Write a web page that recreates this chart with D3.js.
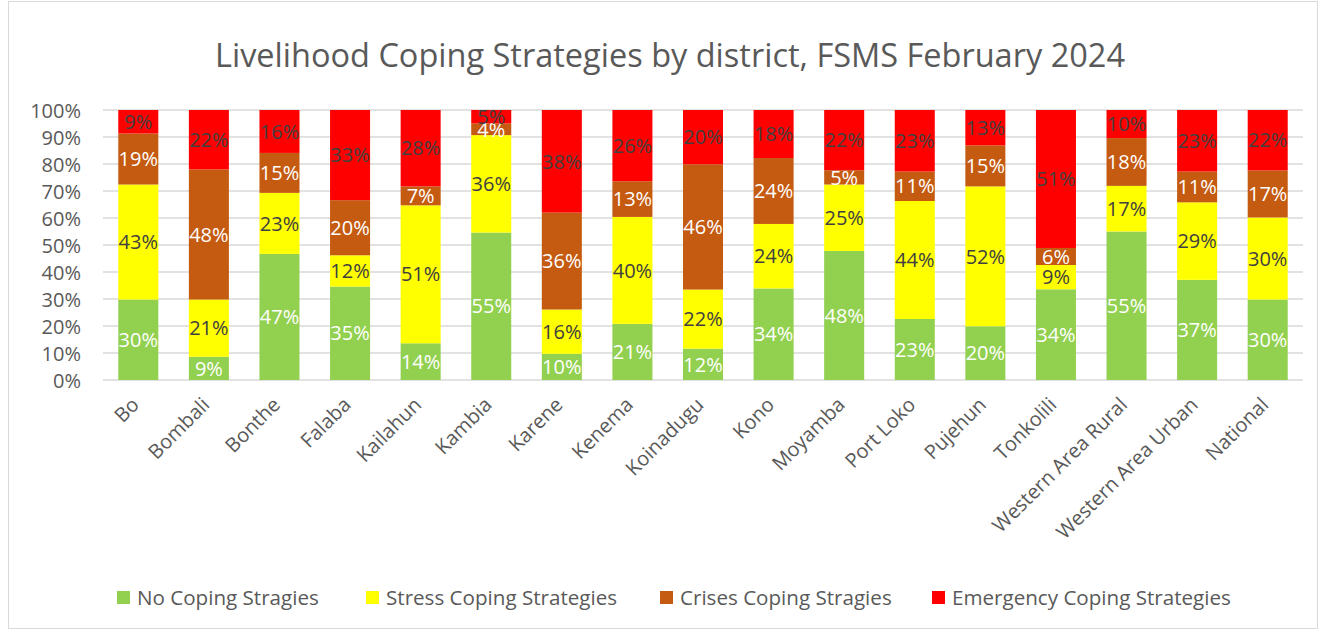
<!DOCTYPE html>
<html>
<head>
<meta charset="utf-8">
<script src="https://cdn.jsdelivr.net/npm/d3@7"></script>
<style>
  html, body { margin: 0; padding: 0; background: #fff; }
  svg { display: block; font-family: "Open Sans", sans-serif; }
</style>
</head>
<body>
<svg id="chart" width="1322" height="631"></svg>
<script>
const categories = ["Bo","Bombali","Bonthe","Falaba","Kailahun","Kambia","Karene","Kenema","Koinadugu","Kono","Moyamba","Port Loko","Pujehun","Tonkolili","Western Area Rural","Western Area Urban","National"];
const seriesNames = ["No Coping Stragies","Stress Coping Strategies","Crises Coping Stragies","Emergency Coping Strategies"];
const noCoping  = [29.8, 8.6, 46.7, 34.6, 13.6, 54.6,  9.7, 20.8, 11.6, 33.9, 47.8, 22.6, 19.9, 33.6, 55.0, 37.1, 29.8];
const stress    = [42.6, 21.2, 22.6, 11.6, 51.1, 36.1, 16.4, 39.6, 21.9, 23.9, 24.6, 43.7, 51.8,  9.0, 16.9, 28.7, 30.4];
const crises    = [18.9, 48.2, 14.8, 20.4,  7.0,  4.3, 35.9, 13.2, 46.4, 24.4,  5.3, 10.9, 15.2,  6.3, 17.7, 11.4, 17.4];
const emergency = [ 8.7, 22.0, 15.9, 33.4, 28.3,  5.0, 38.0, 26.4, 20.1, 17.8, 22.3, 22.8, 13.1, 51.1, 10.4, 22.8, 22.4];
const yTicks = [0,0.1,0.2,0.3,0.4,0.5,0.6,0.7,0.8,0.9,1.0];
const colors = ["#92d050","#ffff00","#c55a11","#ff0000"];
const labelColors = ["#ffffff","#404040","#ffffff","#404040"];
const title = "Livelihood Coping Strategies by district, FSMS February 2024";

const svg = d3.select("#chart");
svg.append("rect").attr("x",8.5).attr("y",1.5).attr("width",1309).attr("height",627)
  .attr("fill","#fff").attr("stroke","#d9d9d9").attr("stroke-width",1);

svg.append("text").attr("x",670).attr("y",67).attr("text-anchor","middle")
  .attr("font-size",32.5).attr("fill","#595959").text(title);

const x = d3.scaleBand().domain(categories).range([103,1303]).padding(0);
const y = d3.scaleLinear().domain([0,1]).range([380,110]);

// gridlines
svg.append("g").selectAll("line").data(yTicks).join("line")
  .attr("x1",103).attr("x2",1303)
  .attr("y1",d=>y(d)).attr("y2",d=>y(d))
  .attr("stroke","#d9d9d9").attr("stroke-width",1.5);

// y axis labels
const yAxis = d3.axisLeft(y).tickValues(yTicks).tickFormat(d3.format(".0%")).tickSize(0).tickPadding(0);
const ya = svg.append("g").attr("transform","translate(81,0)").call(yAxis);
ya.select(".domain").remove();
ya.selectAll("text").attr("font-size",20).attr("fill","#595959").attr("font-family","Open Sans").attr("dy","0.36em");

// stacked data
const table = categories.map((c,i)=>({cat:c, s0:noCoping[i]/100, s1:stress[i]/100, s2:crises[i]/100, s3:emergency[i]/100}));
const stack = d3.stack().keys(["s0","s1","s2","s3"])(table);
const bw = x.bandwidth()*0.567;

const layers = svg.append("g").selectAll("g").data(stack).join("g")
  .attr("fill",(d,i)=>colors[i]);
layers.selectAll("rect").data(d=>d).join("rect")
  .attr("x",d=>x(d.data.cat)+x.bandwidth()/2-bw/2)
  .attr("width",bw)
  .attr("y",d=>y(Math.min(d[1],1)))
  .attr("height",d=>y(d[0])-y(Math.min(d[1],1)));

// data labels
stack.forEach((layer,i)=>{
  svg.append("g").selectAll("text").data(layer).join("text")
    .attr("x",d=>x(d.data.cat)+x.bandwidth()/2)
    .attr("y",d=>(y(d[0])+y(Math.min(d[1],1)))/2)
    .attr("dy","0.36em")
    .attr("text-anchor","middle")
    .attr("font-size",20)
    .attr("fill",labelColors[i])
    .text(d=>Math.round((d[1]-d[0])*100)+"%");
});

// x labels
const xa = svg.append("g");
xa.selectAll("text").data(categories).join("text")
  .attr("text-anchor","end")
  .attr("font-size",20)
  .attr("fill","#595959")
  .attr("transform",d=>`translate(${x(d)+x.bandwidth()/2+2},${406}) rotate(-45)`)
  .text(d=>d);

// legend
const legendX = [117,366,660,932];
const lg = svg.append("g");
seriesNames.forEach((n,i)=>{
  lg.append("rect").attr("x",legendX[i]).attr("y",591).attr("width",13).attr("height",13).attr("fill",colors[i]);
  lg.append("text").attr("x",legendX[i]+20).attr("y",605).attr("font-size",20.6).attr("fill","#595959").text(n);
});
</script>
</body>
</html>
